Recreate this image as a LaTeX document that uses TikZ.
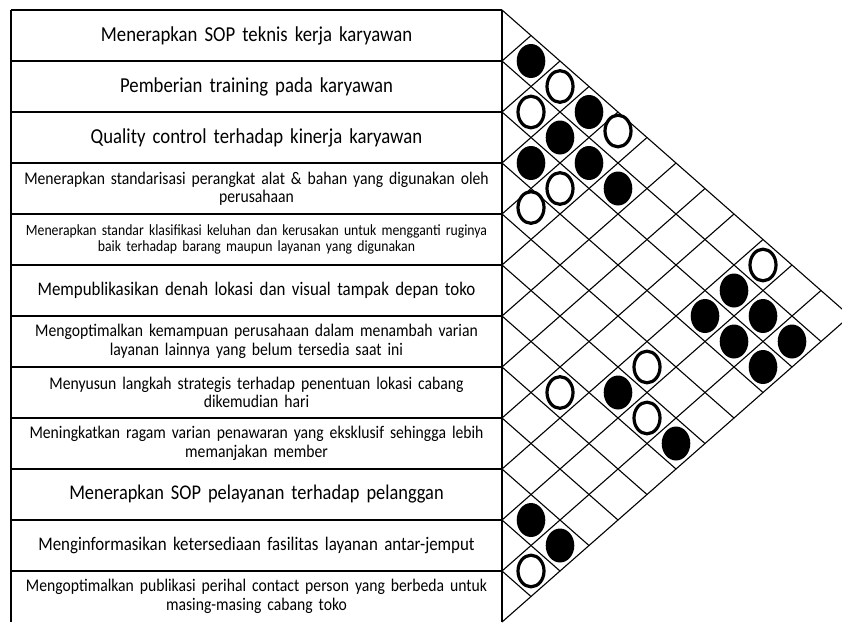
\documentclass[tikz,border=0pt]{standalone}
\usepackage{fontspec}
\setmainfont[FakeStretch=0.88]{Carlito}
\usetikzlibrary{shapes.geometric}
\begin{document}
\begin{tikzpicture}[x=1pt,y=-1pt,
  tbl/.style={line width=1.4pt},
  gridline/.style={line width=1.1pt},
  rowtext/.style={text width=485pt, align=center, inner sep=0pt},
  big/.style={font=\fontsize{21.3}{24}\selectfont},
  mid/.style={font=\fontsize{19.2}{22}\selectfont},
  sml/.style={font=\fontsize{17.8}{18.5}\selectfont},
  tny/.style={font=\fontsize{15.6}{16.5}\selectfont},
  strongmark/.style={ellipse, fill=black, draw=none, inner sep=0pt,
    minimum width=28.6pt, minimum height=34pt},
  weakmark/.style={ellipse, draw=black, fill=white, line width=3.2pt, inner sep=0pt,
    minimum width=26pt, minimum height=31.6pt}]
\useasboundingbox (0,0) rectangle (842,622);
\clip (0,0) rectangle (842,622);
% table frame
\coordinate (TL) at (11,10);
\coordinate (BL) at (11,622);
\coordinate (TR) at (502,10);
\coordinate (BR) at (502,622);
\draw[tbl] (TL) -- (BL);
\draw[tbl] (TR) -- (BR);
\foreach \m in {0,...,11}{
  \coordinate (hl\m) at (11,{10+51*\m});
  \coordinate (hr\m) at (502,{10+51*\m});
  \draw[tbl] (hl\m) -- (hr\m);
}
% triangular correlation grid
\foreach \m in {0,...,12}{
  \coordinate (g\m) at (502,{10+51*\m});
  \coordinate (gd\m) at ({502+29*(12-\m)},{10+51*\m+25.5*(12-\m)});
  \coordinate (gu\m) at ({502+29*\m},{10+51*\m-25.5*\m});
  \draw[gridline] (g\m) -- (gd\m);
  \draw[gridline] (g\m) -- (gu\m);
}
% row texts
\node[rowtext,big] (r1) at (256.5,35.5) {Menerapkan SOP teknis kerja karyawan};
\node[rowtext,big] (r2) at (256.5,86.5) {Pemberian training pada karyawan};
\node[rowtext,big] (r3) at (256.5,137.5) {Quality control terhadap kinerja karyawan};
\node[rowtext,sml] (r4) at (256.5,188.5) {Menerapkan standarisasi perangkat alat \& bahan yang digunakan oleh\\perusahaan};
\node[rowtext,tny] (r5) at (256.5,239.5) {Menerapkan standar klasifikasi keluhan dan kerusakan untuk mengganti ruginya\\baik terhadap barang maupun layanan yang digunakan};
\node[rowtext,mid] (r6) at (256.5,290.5) {Mempublikasikan denah lokasi dan visual tampak depan toko};
\node[rowtext,sml] (r7) at (256.5,341.5) {Mengoptimalkan kemampuan perusahaan dalam menambah varian\\layanan lainnya yang belum tersedia saat ini};
\node[rowtext,sml] (r8) at (256.5,392.5) {Menyusun langkah strategis terhadap penentuan lokasi cabang\\dikemudian hari};
\node[rowtext,sml] (r9) at (256.5,443.5) {Meningkatkan ragam varian penawaran yang eksklusif sehingga lebih\\memanjakan member};
\node[rowtext,big,font=\fontsize{20.9}{24}\selectfont] (r10) at (256.5,494.5) {Menerapkan SOP pelayanan terhadap pelanggan};
\node[rowtext,mid] (r11) at (256.5,545.5) {Menginformasikan ketersediaan fasilitas layanan antar-jemput};
\node[rowtext,sml] (r12) at (256.5,596.5) {Mengoptimalkan publikasi perihal contact person yang berbeda untuk\\masing-masing cabang toko};
% correlation marks
\foreach \i/\j/\d in {1/2/0,1/4/0,2/4/0,3/4/0,2/5/0,2/6/0,2/10/0,3/10/0,2/11/0,3/11/0,2/12/0,3/12/0,6/10/0,6/12/0,10/11/0,10/12/0}{
  \node[strongmark] (s\i-\j) at ({502+29*(\j-\i)},{10+25.5*(\i+\j-1)+\d}) {};
}
\foreach \i/\j/\d in {1/3/0,2/3/0,1/5/-6.5,3/5/0,4/5/-6.5,1/10/0,5/10/0,7/9/0,6/11/0,11/12/0}{
  \node[weakmark] (w\i-\j) at ({502+29*(\j-\i)},{10+25.5*(\i+\j-1)+\d}) {};
}
\end{tikzpicture}
\end{document}
